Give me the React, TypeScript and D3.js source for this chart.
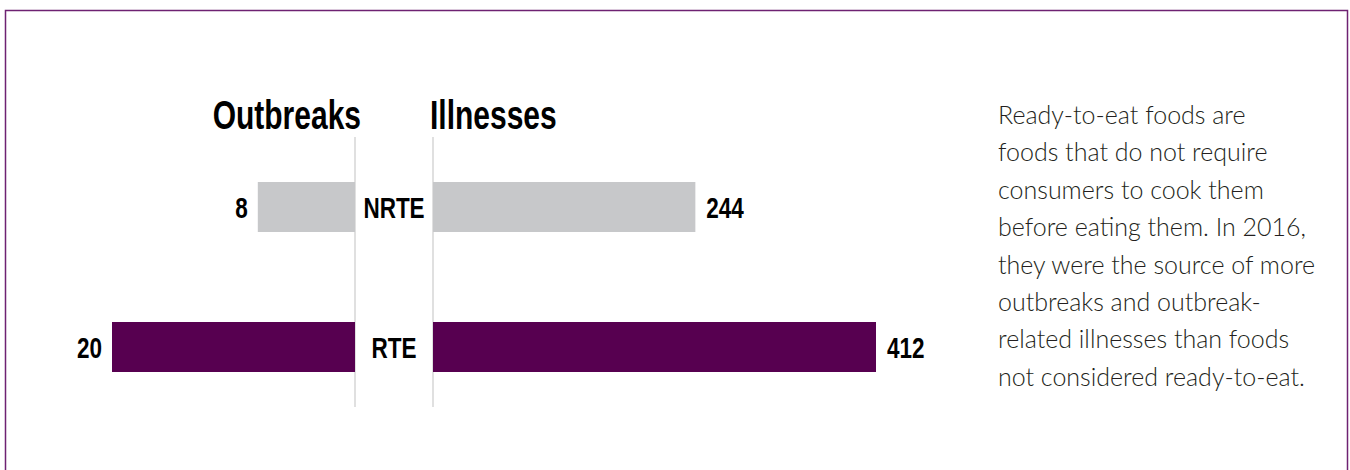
import React, { useEffect, useRef } from 'react'
import * as d3 from 'd3'

// food categories, top to bottom
const categories = ['NRTE', 'RTE']
const outbreaks = [8, 20]
const illnesses = [244, 412]
const panelTitles = ['Outbreaks', 'Illnesses']

const noteLines = [
  'Ready-to-eat foods are',
  'foods that do not require',
  'consumers to cook them',
  'before eating them. In 2016,',
  'they were the source of more',
  'outbreaks and outbreak-',
  'related illnesses than foods',
  'not considered ready-to-eat.',
]

const App: React.FC = () => {
  const ref = useRef<SVGSVGElement>(null)

  useEffect(() => {
    renderChart()
  }, [])

  const renderChart = () => {
    const width = 1350
    const height = 470
    const leftAxis = 355
    const rightAxis = 433
    const boldFont = '"Liberation Sans", Arial, sans-serif'
    // no condensed bold font installed, so squeeze the glyphs
    const squeeze = 0.75
    const place = (x: number, y: number) =>
      `translate(${x},${y}) scale(${squeeze},1)`

    const svg = d3.select(ref.current)
    svg.selectAll('*').remove()
    svg.attr('width', width).attr('height', height)

    /* frame */
    svg
      .append('rect')
      .attr('x', 5.5)
      .attr('y', 10.5)
      .attr('width', 1342)
      .attr('height', 500)
      .attr('fill', '#fff')
      .attr('stroke', '#6e2272')
      .attr('stroke-width', 1.5)

    /* Scales */
    const yScale = d3
      .scaleBand()
      .domain(categories)
      .range([92, 462])
      .padding(0.642857)

    const outScale = d3
      .scaleLinear()
      .domain([0, 20])
      .range([0, 243])

    const illScale = d3
      .scaleLinear()
      .domain([0, 412])
      .range([0, 443])

    const color = (c: string) => (c === 'RTE' ? '#570050' : '#c7c8ca')

    /* axis lines */
    svg
      .selectAll('.axis-line')
      .data([leftAxis, rightAxis])
      .enter()
      .append('line')
      .attr('class', 'axis-line')
      .attr('x1', (d) => d)
      .attr('x2', (d) => d)
      .attr('y1', 137)
      .attr('y2', 407)
      .attr('stroke', '#d6d6d6')
      .attr('stroke-width', 1.5)

    /* titles */
    svg
      .selectAll('.panel-title')
      .data(panelTitles)
      .enter()
      .append('text')
      .attr('class', 'panel-title')
      .attr('transform', (d, i) =>
        place(i === 0 ? leftAxis + 6 : rightAxis - 3, 129)
      )
      .attr('text-anchor', (d, i) => (i === 0 ? 'end' : 'start'))
      .style('font-family', boldFont)
      .style('font-weight', 'bold')
      .style('font-size', '40px')
      .attr('fill', '#000')
      .text((d) => d)

    const rows = svg
      .selectAll('.row')
      .data(categories)
      .enter()
      .append('g')
      .attr('class', 'row')

    // outbreaks, growing left
    rows
      .append('rect')
      .attr('x', (d, i) => leftAxis - outScale(outbreaks[i]))
      .attr('y', (d) => yScale(d) as number)
      .attr('width', (d, i) => outScale(outbreaks[i]))
      .attr('height', yScale.bandwidth())
      .attr('fill', (d) => color(d))

    // illnesses, growing right
    rows
      .append('rect')
      .attr('x', rightAxis)
      .attr('y', (d) => yScale(d) as number)
      .attr('width', (d, i) => illScale(illnesses[i]))
      .attr('height', yScale.bandwidth())
      .attr('fill', (d) => color(d))

    const mid = (d: string) => (yScale(d) as number) + yScale.bandwidth() / 2

    const label = (sel: any) =>
      sel
        .attr('dy', '0.36em')
        .style('font-family', boldFont)
        .style('font-weight', 'bold')
        .style('font-size', '30px')
        .attr('fill', '#000')

    rows
      .append('text')
      .call(label)
      .attr('transform', (d, i) =>
        place(leftAxis - outScale(outbreaks[i]) - 10, mid(d))
      )
      .attr('text-anchor', 'end')
      .text((d, i) => outbreaks[i])

    rows
      .append('text')
      .call(label)
      .attr('transform', (d, i) =>
        place(rightAxis + illScale(illnesses[i]) + 11, mid(d))
      )
      .attr('text-anchor', 'start')
      .text((d, i) => illnesses[i])

    rows
      .append('text')
      .call(label)
      .attr('transform', (d) => place((leftAxis + rightAxis) / 2, mid(d)))
      .attr('text-anchor', 'middle')
      .text((d) => d)

    /* side note */
    svg
      .append('g')
      .selectAll('text')
      .data(noteLines)
      .enter()
      .append('text')
      .attr('x', 998)
      .attr('y', (d, i) => 124 + i * 37.4)
      .style('font-family', 'Lato, "Open Sans", sans-serif')
      .style('font-weight', 300)
      .style('font-size', '25px')
      .attr('fill', '#231f20')
      .text((d) => d)
  }

  return (
    <svg
      ref={ref}
      style={{ position: 'absolute', left: 0, top: 0, display: 'block' }}
    />
  )
}

export default App
